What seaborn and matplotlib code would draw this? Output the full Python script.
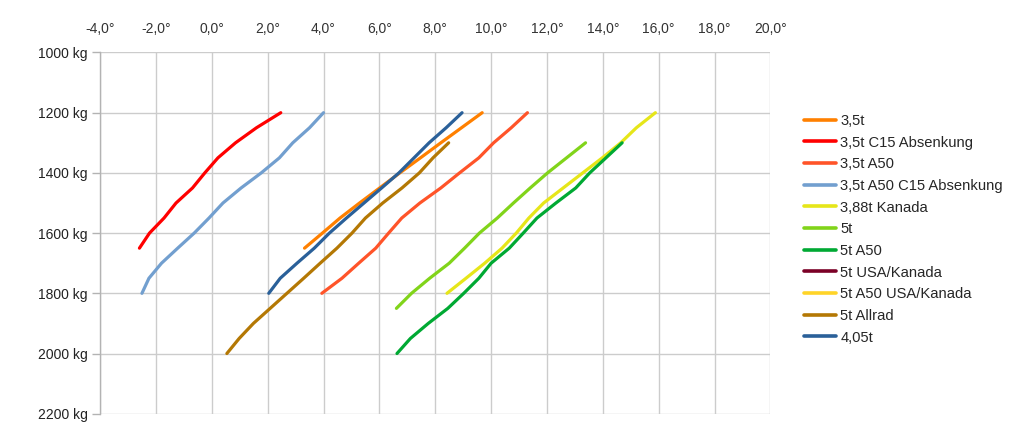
import matplotlib
matplotlib.use('Agg')
import matplotlib.pyplot as plt
from matplotlib.lines import Line2D
import seaborn as sns
import pandas as pd

# Series names (legend order) and colours
names = ['3,5t', '3,5t C15 Absenkung', '3,5t A50', '3,5t A50 C15 Absenkung',
         '3,88t Kanada', '5t', '5t A50', '5t USA/Kanada', '5t A50 USA/Kanada',
         '5t Allrad', '4,05t']
colors = ['#ff8000', '#ff0000', '#ff5429', '#729fcf', '#e6e619', '#81d41a',
          '#00a933', '#7b0026', '#ffd428', '#b47804', '#2a6099']

# weight (kg) and angle (deg) for each series
kg_35 = [1200, 1250, 1300, 1350, 1400, 1450, 1500, 1550, 1600, 1650]
deg_35 = [9.68, 8.94, 8.2, 7.47, 6.73, 6.01, 5.29, 4.59, 3.96, 3.32]

kg_35_c15 = [1200, 1250, 1300, 1350, 1400, 1450, 1500, 1550, 1600, 1650]
deg_35_c15 = [2.47, 1.6, 0.85, 0.22, -0.25, -0.69, -1.28, -1.71, -2.23, -2.59]

kg_35_a50 = [1200, 1250, 1300, 1350, 1400, 1450, 1500, 1550, 1600, 1650, 1700, 1750, 1800]
deg_35_a50 = [11.3, 10.72, 10.09, 9.56, 8.87, 8.2, 7.45, 6.8, 6.33, 5.87, 5.26, 4.66, 3.94]

kg_35_a50_c15 = [1200, 1250, 1300, 1350, 1400, 1450, 1500, 1550, 1600, 1650, 1700, 1750, 1800]
deg_35_a50_c15 = [4.0, 3.5, 2.9, 2.42, 1.77, 1.05, 0.4, -0.1, -0.63, -1.22, -1.8, -2.25, -2.5]

kg_388_kan = [1200, 1250, 1300, 1350, 1400, 1450, 1500, 1550, 1600, 1650, 1700, 1750, 1800]
deg_388_kan = [15.88, 15.2, 14.64, 13.98, 13.28, 12.58, 11.88, 11.35, 10.9, 10.39, 9.77, 9.1, 8.42]

kg_5 = [1300, 1350, 1400, 1450, 1500, 1550, 1600, 1650, 1700, 1750, 1800, 1850]
deg_5 = [13.38, 12.7, 12.02, 11.4, 10.8, 10.22, 9.58, 9.05, 8.5, 7.8, 7.15, 6.61]

kg_5_a50 = [1300, 1350, 1400, 1450, 1500, 1550, 1600, 1650, 1700, 1750, 1800, 1850, 1900, 1950, 2000]
deg_5_a50 = [14.69, 14.11, 13.53, 13.03, 12.32, 11.64, 11.15, 10.65, 10.0, 9.56, 9.02, 8.45, 7.75, 7.11, 6.63]

kg_5_usa = []
deg_5_usa = []

kg_5_a50_usa = []
deg_5_a50_usa = []

kg_5_allrad = [1300, 1350, 1400, 1450, 1500, 1550, 1600, 1650, 1700, 1750, 1800, 1850, 1900, 1950, 2000]
deg_5_allrad = [8.48, 7.92, 7.43, 6.81, 6.12, 5.5, 5.02, 4.48, 3.88, 3.29, 2.69, 2.09, 1.49, 0.98, 0.54]

kg_405 = [1200, 1250, 1300, 1350, 1400, 1450, 1500, 1550, 1600, 1650, 1700, 1750, 1800]
deg_405 = [8.96, 8.39, 7.78, 7.24, 6.7, 6.08, 5.45, 4.82, 4.21, 3.67, 3.05, 2.45, 2.04]

x_ticks = [-4, -2, 0, 2, 4, 6, 8, 10, 12, 14, 16, 18, 20]
y_ticks = [1000, 1200, 1400, 1600, 1800, 2000, 2200]

series = [(deg_35, kg_35), (deg_35_c15, kg_35_c15), (deg_35_a50, kg_35_a50),
          (deg_35_a50_c15, kg_35_a50_c15), (deg_388_kan, kg_388_kan), (deg_5, kg_5),
          (deg_5_a50, kg_5_a50), (deg_5_usa, kg_5_usa), (deg_5_a50_usa, kg_5_a50_usa),
          (deg_5_allrad, kg_5_allrad), (deg_405, kg_405)]

sns.set_style('white')
plt.rcParams['font.family'] = ['Liberation Sans', 'DejaVu Sans']

fig = plt.figure(figsize=(10.24, 4.43), dpi=100)
ax = fig.add_axes([0.0977, 0.0661, 0.6547, 0.8154])

for name, col, (xs, ys) in zip(names, colors, series):
    if len(xs) == 0:
        continue
    df = pd.DataFrame({'Winkel': xs, 'Gewicht': ys})
    sns.lineplot(data=df, x='Winkel', y='Gewicht', color=col, lw=2.3,
                 sort=False, estimator=None, ax=ax, legend=False)

ax.set_xlim(-4, 20)
ax.set_ylim(2200, 1000)
ax.set_xticks(x_ticks)
ax.set_yticks(y_ticks)
ax.set_xticklabels([f'{v:.1f}'.replace('.', ',') + '°' for v in x_ticks])
ax.set_yticklabels([f'{v} kg' for v in y_ticks])
ax.xaxis.tick_top()
ax.set_xlabel('')
ax.set_ylabel('')
ax.grid(True, color='#cccccc', lw=1)
ax.tick_params(axis='x', length=0, pad=12, labelsize=10, colors='#333333')
ax.tick_params(axis='y', left=True, length=6, width=1, color='#b3b3b3',
               pad=3, labelsize=10, labelcolor='#222222')
for s in ['top', 'right', 'bottom']:
    ax.spines[s].set_visible(False)
ax.spines['left'].set_color('#b3b3b3')
ax.spines['left'].set_linewidth(1)

handles = [Line2D([], [], color=c, lw=2.6) for c in colors]
fig.legend(handles, names, loc='upper left', bbox_to_anchor=(0.779, 0.756),
           frameon=False, fontsize=10.6, handlelength=2.2, handletextpad=0.3,
           labelspacing=0.52, borderaxespad=0)

fig.savefig('out.png', dpi=100)
